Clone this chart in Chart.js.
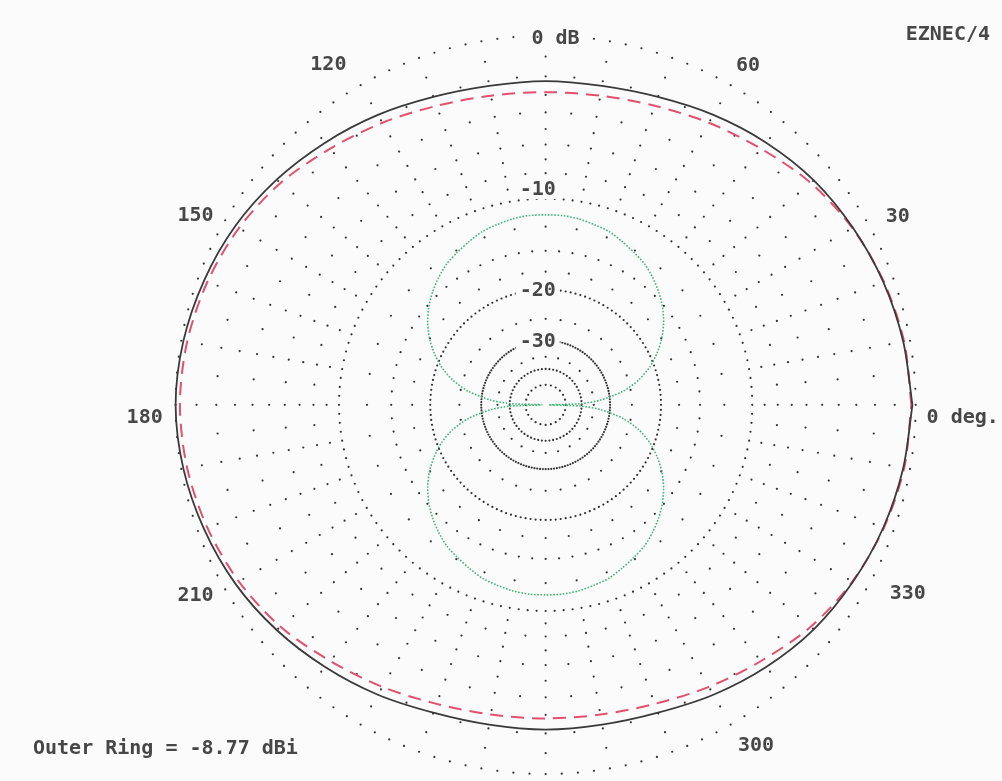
<!DOCTYPE html>
<html>
<head>
<meta charset="utf-8">
<script src="https://cdn.jsdelivr.net/npm/chart.js@4.4.0/dist/chart.umd.min.js"></script>
<style>
html,body{margin:0;padding:0;background:#fbfbfb;}
#wrap{width:1002px;height:781px;position:relative;overflow:hidden;}
canvas{display:block;}
</style>
</head>
<body>
<div id="wrap"><canvas id="c" width="1002" height="781"></canvas></div>
<script>
// ---- Data (elevation angle in degrees, gain in dB relative to outer ring) ----
const curveAngles = [0,10,20,30,40,50,60,70,80,90,100,110,120,130,140,150,160,170,
                     180,190,200,210,220,230,240,250,260,270,280,290,300,310,320,330,340,350,360];
const totalDb = [-0.15,-0.32,-0.5,-0.72,-0.95,-1.3,-1.68,-2.05,-2.25,-2.25,-2.25,-2.05,-1.68,-1.3,-0.9,-0.55,-0.3,-0.1,
                 0,-0.1,-0.3,-0.55,-0.9,-1.3,-1.68,-2.05,-2.2,-2.2,-2.2,-2.05,-1.68,-1.3,-0.95,-0.72,-0.5,-0.32,-0.15];
const horizDb = [-0.2,-0.28,-0.47,-0.75,-1.15,-1.7,-2.15,-2.55,-2.78,-2.85,-2.78,-2.55,-2.15,-1.7,-1.15,-0.75,-0.47,-0.28,
                 -0.2,-0.28,-0.47,-0.75,-1.15,-1.7,-2.15,-2.55,-2.75,-2.8,-2.75,-2.55,-2.15,-1.7,-1.15,-0.75,-0.47,-0.28,-0.2];
const vertAngles = [0,2,5,10,15,20,25,30,35,40,45,50,55,60,65,70,75,80,85,90,95,100,105,110,115,120,125,130,135,140,145,150,155,160,165,170,175,178,
                    180,182,185,190,195,200,205,210,215,220,225,230,235,240,245,250,255,260,265,270,275,280,285,290,295,300,305,310,315,320,325,330,335,340,345,350,355,358,360];
const vertDb = [-80,-40.5,-32.6,-26.6,-23.1,-20.7,-18.9,-17.4,-16.2,-15.2,-14.4,-13.7,-13.1,-12.7,-12.3,-11.9,-11.7,-11.5,-11.4,-11.4,-11.4,-11.5,-11.7,-11.9,-12.3,-12.7,-13.1,-13.7,-14.4,-15.2,-16.2,-17.4,-18.9,-20.7,-23.1,-26.6,-32.6,-40.5,
                -80,-40.5,-32.6,-26.6,-23.1,-20.7,-18.9,-17.4,-16.2,-15.2,-14.4,-13.7,-13.1,-12.7,-12.3,-11.9,-11.7,-11.5,-11.4,-11.4,-11.4,-11.5,-11.7,-11.9,-12.3,-12.7,-13.1,-13.7,-14.4,-15.2,-16.2,-17.4,-18.9,-20.7,-23.1,-26.6,-32.6,-40.5,-80];

// ---- Grid / labels ----
const ringDb = [0,-10,-20,-30,-40,-50];
const ringStepDeg = [2.5,2.5,2.5,2.5,6,15];
const spokeDbMajor = [-1,-2,-3,-4,-5,-6,-7,-8,-9,-12.5,-15,-17.5];
const spokeDbMinor = [-2,-4,-6,-8,-15];
const spokeDbInner = [-25,-35];
const ringLabels = ["-10","-20","-30"];
const angleLabels = ["0 deg.","30","60","120","150","180","210","300","330"];
const topLabel = "0 dB";
const cornerLabel = "EZNEC/4";
const footLabel = "Outer Ring = -8.77 dBi";

// ARRL log-periodic radial scale: each 2 dB shrinks radius by factor 0.89
const R = 373;
function radius(db){ return R * Math.pow(0.89, -db/2); }
function pt(angDeg, db){
  const a = angDeg*Math.PI/180, r = radius(db);
  return {x: r*Math.cos(a), y: r*Math.sin(a)};
}
function curve(angles, dbs){ return angles.map((a,i)=>pt(a, dbs[i])); }

const ringPts = [];
ringDb.forEach((db,k)=>{
  const st = ringStepDeg[k];
  for(let a=0; a<360-1e-6; a+=st) ringPts.push(pt(a, db));
});
const spokePts = [];
for(let a=0; a<360; a+=5){
  (a%10===0 ? spokeDbMajor : spokeDbMinor).forEach(db=>spokePts.push(pt(a, db)));
}
for(let a=0; a<360; a+=10){ spokePts.push(pt(a, spokeDbInner[0])); }
for(let a=0; a<360; a+=15){ spokePts.push(pt(a, spokeDbInner[1])); }

const FONT = 'bold 20px "DejaVu Sans Mono", "Liberation Mono", monospace';
const TXT = '#474747';

const labelPlugin = {
  id:'labels',
  afterDatasetsDraw(chart){
    const ctx = chart.ctx, xs = chart.scales.x, ys = chart.scales.y;
    const X = v=>xs.getPixelForValue(v), Y = v=>ys.getPixelForValue(v);
    ctx.save();
    ctx.font = FONT;
    ctx.textBaseline = 'middle';
    function lab(text, px, py, align, bg){
      ctx.textAlign = align || 'center';
      const w = ctx.measureText(text).width;
      let left = px;
      if(ctx.textAlign==='center') left = px - w/2;
      else if(ctx.textAlign==='right') left = px - w;
      if(bg){ ctx.fillStyle = '#fbfbfb'; ctx.fillRect(left-4, py-10, w+8, 20); }
      ctx.fillStyle = TXT;
      ctx.fillText(text, px, py+1);
    }
    const angPos = {"0 deg.":[384,-12,'left'],"30":[355,191],"60":[204,344],"120":[-219,345],"150":[-353,192],
                    "180":[-386,-12,'right'],"210":[-353,-192],"300":[212,-343],"330":[365,-190]};
    angleLabels.forEach(t=>{ const p=angPos[t]; lab(t, X(p[0]), Y(p[1]), p[2], true); });
    lab(topLabel, X(10), Y(371), 'center', true);
    const ringPos = [218,116,65];
    ringLabels.forEach((t,i)=>lab(t, X(-8), Y(ringPos[i]), 'center', true));
    lab(cornerLabel, 990, 34, 'right', false);
    lab(footLabel, 33, 748, 'left', false);
    ctx.restore();
  }
};

new Chart(document.getElementById('c'), {
  type:'scatter',
  data:{
    datasets:[
      {label:'Total', data:curve(curveAngles,totalDb), showLine:true, borderColor:'#3a3a3a', borderWidth:1.8,
       pointRadius:0, tension:0.3, order:1},
      {label:'Horiz', data:curve(curveAngles,horizDb), showLine:true, borderColor:'#e2506e', borderWidth:2,
       borderDash:[13,8], pointRadius:0, tension:0.3, order:2},
      {label:'Vert', data:curve(vertAngles,vertDb), showLine:true, borderColor:'#40b478', borderWidth:1.6,
       borderDash:[1.6,1.6], pointRadius:0, tension:0.25, order:3},
      {label:'rings', data:ringPts, showLine:false, pointRadius:1.1, pointBorderWidth:0,
       pointBackgroundColor:'#333333', order:10},
      {label:'spokes', data:spokePts, showLine:false, pointRadius:1.1, pointBorderWidth:0,
       pointBackgroundColor:'#333333', order:11}
    ]
  },
  options:{
    responsive:false, animation:false, devicePixelRatio:1,
    layout:{padding:0},
    scales:{
      x:{type:'linear', min:-546, max:456, display:false},
      y:{type:'linear', min:-376, max:405, display:false}
    },
    plugins:{legend:{display:false}, tooltip:{enabled:false}},
    events:[]
  },
  plugins:[labelPlugin]
});
</script>
</body>
</html>
